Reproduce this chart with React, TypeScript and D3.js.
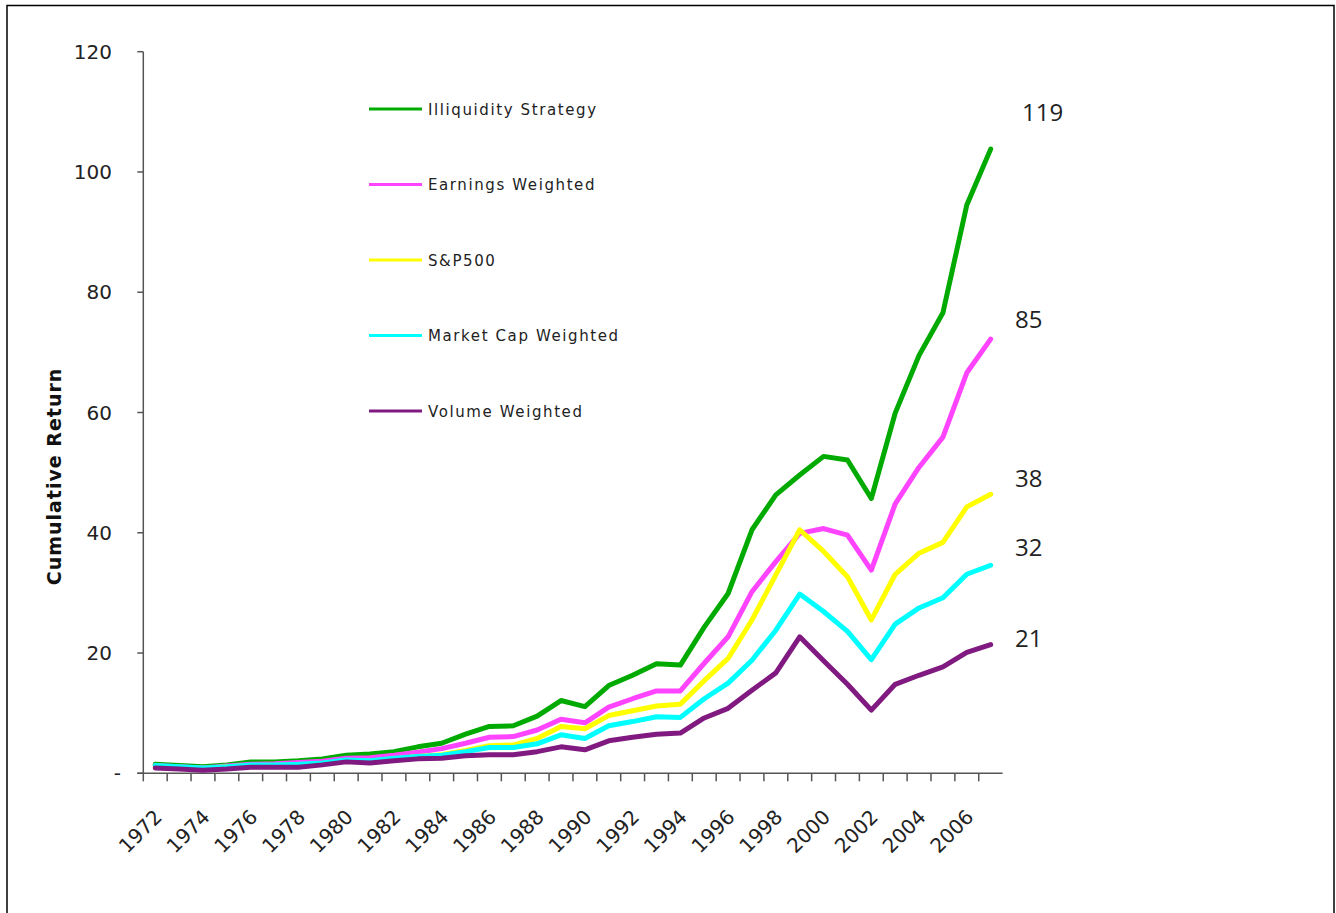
import React from "react";
import * as d3 from "d3";

const years: number[] = d3.range(1972, 2008);

const seriesNames = [
  "Illiquidity Strategy",
  "Earnings Weighted",
  "S&P500",
  "Market Cap Weighted",
  "Volume Weighted",
];

const illiquidity = [1.5, 1.3, 1.1, 1.4, 1.9, 1.9, 2.1, 2.4, 3.0, 3.2, 3.6, 4.4, 5.0, 6.5, 7.8, 7.9, 9.5, 12.1, 11.1, 14.6, 16.3, 18.2, 18.0, 24.3, 29.9, 40.5, 46.3, 49.6, 52.7, 52.1, 45.7, 59.9, 69.5, 76.6, 94.5, 103.8];
const earnings = [1.3, 1.1, 0.9, 1.2, 1.5, 1.6, 1.8, 2.0, 2.5, 2.6, 3.0, 3.5, 4.1, 5.0, 6.0, 6.1, 7.2, 9.0, 8.4, 11.0, 12.4, 13.7, 13.7, 18.3, 22.7, 30.2, 35.2, 39.9, 40.7, 39.6, 33.8, 44.8, 50.9, 55.9, 66.6, 72.2];
const sp500 = [1.2, 1.0, 0.8, 1.1, 1.3, 1.3, 1.4, 1.6, 2.1, 2.0, 2.4, 2.8, 3.1, 3.8, 4.6, 4.7, 5.8, 7.8, 7.4, 9.6, 10.4, 11.2, 11.5, 15.4, 19.1, 25.5, 33.0, 40.5, 36.9, 32.7, 25.5, 33.1, 36.6, 38.4, 44.3, 46.4];
const marketCap = [1.3, 1.1, 0.9, 1.1, 1.4, 1.4, 1.5, 1.7, 2.2, 2.1, 2.5, 2.8, 3.0, 3.6, 4.3, 4.3, 4.9, 6.4, 5.8, 7.9, 8.6, 9.4, 9.3, 12.4, 15.0, 18.8, 23.8, 29.8, 26.9, 23.6, 18.9, 24.8, 27.5, 29.2, 33.1, 34.6];
const volume = [0.9, 0.7, 0.5, 0.7, 1.0, 1.0, 1.0, 1.4, 1.9, 1.7, 2.1, 2.4, 2.5, 2.9, 3.1, 3.1, 3.6, 4.4, 3.9, 5.4, 6.0, 6.5, 6.7, 9.2, 10.8, 13.8, 16.7, 22.7, 18.7, 14.8, 10.5, 14.8, 16.3, 17.7, 20.1, 21.4];

const seriesValues = [illiquidity, earnings, sp500, marketCap, volume];
const seriesColors = ["#00aa00", "#ff44ff", "#ffff00", "#00ffff", "#801a80"];

const yTicks = [0, 20, 40, 60, 80, 100, 120];

// end annotations (text, anchor value in data units)
const endLabels = ["119", "85", "38", "32", "21"];
const endLabelValues = [108.4, 74.1, 47.6, 36.2, 21.0];

export default function App() {
  const W = 1336;
  const H = 913;
  const left = 143.3;
  const right = 1002.6;
  const top = 51.7;
  const bottom = 773.3;

  const x = d3.scaleBand<number>().domain(years).range([left, right]).padding(0);
  const y = d3.scaleLinear().domain([0, 120]).range([bottom, top]);
  const cx = (yr: number) => (x(yr) as number) + x.bandwidth() / 2;

  const line = d3
    .line<number>()
    .x((_, i) => cx(years[i]))
    .y((v) => y(v));

  const tickFont = "'DejaVu Sans', Verdana, sans-serif";

  return (
    <svg
      width={W}
      height={H}
      style={{ position: "absolute", left: 0, top: 0, background: "#fff" }}
    >
      <rect x={7} y={5.5} width={1327} height={930} fill="#fff" stroke="#000" strokeWidth={1.5} />

      {/* y axis */}
      <line x1={left} x2={left} y1={top} y2={bottom} stroke="#555" strokeWidth={1.5} />
      {yTicks.map((t) => (
        <g key={t}>
          <line x1={left - 6} x2={left} y1={y(t)} y2={y(t)} stroke="#555" strokeWidth={1.5} />
          <text
            x={t === 0 ? 121 : 112}
            y={y(t) + 7}
            textAnchor="end"
            fontFamily={tickFont}
            fontSize={20}
            fill="#222"
          >
            {t === 0 ? "-" : t}
          </text>
        </g>
      ))}

      {/* x axis */}
      <line x1={left - 6} x2={right} y1={bottom} y2={bottom} stroke="#555" strokeWidth={1.5} />
      {years.map((yr) => (
        <line
          key={yr}
          x1={x(yr) as number}
          x2={x(yr) as number}
          y1={bottom}
          y2={bottom + 8}
          stroke="#555"
          strokeWidth={1.5}
        />
      ))}
      {years
        .filter((yr) => yr % 2 === 0)
        .map((yr) => (
          <text
            key={yr}
            transform={`translate(${cx(yr) + 8},${bottom + 45}) rotate(-45)`}
            textAnchor="end"
            fontFamily={tickFont}
            fontSize={20}
            fill="#222"
          >
            {yr}
          </text>
        ))}

      {/* y title */}
      <text
        transform={`translate(61,${(363 + 590) / 2}) rotate(-90)`}
        textAnchor="middle"
        fontFamily={tickFont}
        fontWeight="bold"
        fontSize={19}
        letterSpacing={1}
        fill="#111"
      >
        Cumulative Return
      </text>

      {/* series */}
      {seriesValues.map((vals, i) => (
        <path
          key={seriesNames[i]}
          d={line(vals) || ""}
          fill="none"
          stroke={seriesColors[i]}
          strokeWidth={5}
          strokeLinejoin="round"
          strokeLinecap="round"
        />
      ))}

      {/* legend */}
      {seriesNames.map((n, i) => {
        const ly = 109 + i * 75.5;
        return (
          <g key={n}>
            <line x1={369} x2={422} y1={ly} y2={ly} stroke={seriesColors[i]} strokeWidth={3} />
            <text
              x={428}
              y={ly + 5.5}
              fontFamily={tickFont}
              fontSize={15}
              letterSpacing={1.6}
              fill="#222"
            >
              {n}
            </text>
          </g>
        );
      })}

      {/* end labels */}
      {endLabels.map((t, i) => (
        <text
          key={t}
          x={i === 0 ? 1022 : 1015}
          y={y(endLabelValues[i])}
          fontFamily="'Open Sans', 'Liberation Sans', sans-serif"
          fontSize={24}
          fill="#222"
        >
          {t}
        </text>
      ))}
    </svg>
  );
}
